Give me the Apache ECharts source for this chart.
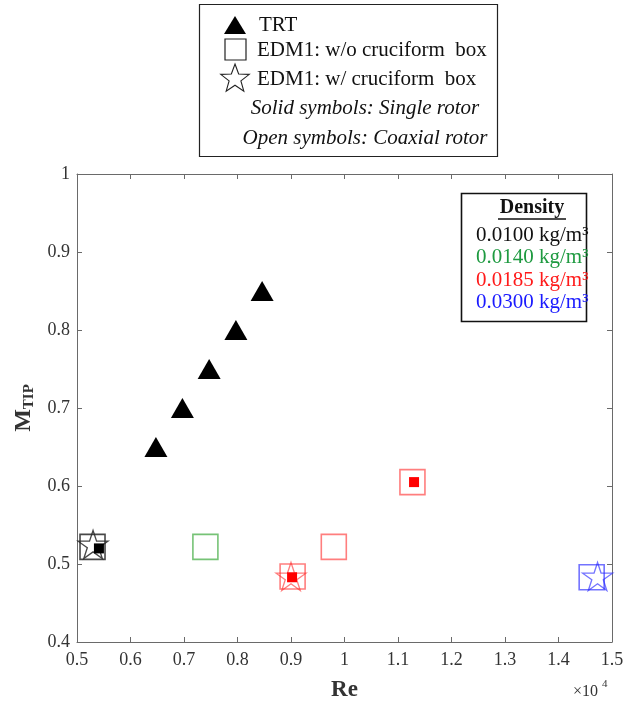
<!DOCTYPE html>
<html><head><meta charset="utf-8">
<script src="https://cdn.jsdelivr.net/npm/echarts@6/dist/echarts.min.js"></script>
<style>html,body{margin:0;padding:0;background:#fff}#c{width:627px;height:707px}</style>
</head><body><div id="c"></div>
<script>
// ---- data (Re in absolute units, M_TIP) ----
var trtRe   = [6475, 6970, 7470, 7970, 8460];
var trtM    = [0.650, 0.700, 0.750, 0.800, 0.850];

// open squares: EDM1 w/o cruciform box (coaxial)
var sqRe    = [5290, 7400, 9800, 9030, 11270, 14620];
var sqM     = [0.522, 0.522, 0.522, 0.484, 0.605, 0.483];
var sqDens  = ['0.0100', '0.0140', '0.0185', '0.0185', '0.0185', '0.0300'];

// open stars: EDM1 w/ cruciform box (coaxial)
var stRe    = [5300, 9000, 14730];
var stM     = [0.525, 0.484, 0.484];
var stDens  = ['0.0100', '0.0185', '0.0300'];

// solid small squares: single rotor
var ssRe    = [5410, 9020, 11300];
var ssM     = [0.520, 0.483, 0.605];
var ssDens  = ['0.0100', '0.0185', '0.0185'];

var densLabels = ['0.0100', '0.0140', '0.0185', '0.0300'];
var xTicks = [0.5, 0.6, 0.7, 0.8, 0.9, 1, 1.1, 1.2, 1.3, 1.4, 1.5];
var yTicks = [0.4, 0.5, 0.6, 0.7, 0.8, 0.9, 1];

// ---- styling ----
var openCol = {'0.0100':'rgba(40,40,40,0.85)','0.0140':'rgba(60,170,60,0.7)','0.0185':'rgba(255,40,40,0.6)','0.0300':'rgba(40,40,255,0.65)'};
var solidCol = {'0.0100':'#000','0.0140':'#1a9a3a','0.0185':'#ff0000','0.0300':'#0000ff'};
var textCol = {'0.0100':'#111','0.0140':'#1e9a40','0.0185':'#ff1a1a','0.0300':'#1a1aff'};
var FONT = '"Liberation Serif", "DejaVu Serif", serif';
var STAR = 'path://M50,0 L61.2,34.5 L97.6,34.5 L68.2,55.9 L79.4,90.5 L50,69.1 L20.6,90.5 L31.8,55.9 L2.4,34.5 L38.8,34.5 Z';

function zip(a,b){return a.map(function(v,i){return [v,b[i]];});}

var chart = echarts.init(document.getElementById('c'), null, {renderer:'canvas'});

var axisLineStyle = {color:'#6a6a6a', width:1};
var option = {
  backgroundColor:'#fff',
  animation:false,
  grid:{left:77, right:15, top:174, bottom:60, containLabel:false},
  xAxis:[{
    type:'value', min:5000, max:15000, interval:1000,
    axisLine:{show:true,onZero:false,lineStyle:axisLineStyle},
    axisTick:{show:true,inside:true,length:5,lineStyle:axisLineStyle},
    splitLine:{show:false},
    axisLabel:{fontFamily:FONT,fontSize:18,color:'#333',margin:9,
      formatter:function(v){var t=xTicks[Math.round((v-5000)/1000)];return String(t);}},
    name:'Re', nameLocation:'middle', nameGap:37,
    nameTextStyle:{fontFamily:FONT,fontSize:23,fontWeight:'bold',color:'#333'}
  },{
    type:'value', min:5000, max:15000, interval:1000, position:'top',
    axisLine:{show:true,onZero:false,lineStyle:axisLineStyle},
    axisTick:{show:true,inside:true,length:5,lineStyle:axisLineStyle},
    axisLabel:{show:false}, splitLine:{show:false}
  }],
  yAxis:[{
    type:'value', min:0.4, max:1, interval:0.1,
    axisLine:{show:true,onZero:false,lineStyle:axisLineStyle},
    axisTick:{show:true,inside:true,length:5,lineStyle:axisLineStyle},
    splitLine:{show:false},
    axisLabel:{fontFamily:FONT,fontSize:18,color:'#333',margin:7,
      formatter:function(v){var t=yTicks[Math.round((v-0.4)*10)];return String(t);}},
    name:'{m|M}{s|TIP}', nameLocation:'middle', nameGap:38, nameRotate:90,
    nameTextStyle:{rich:{
      m:{fontFamily:FONT,fontSize:24,fontWeight:'bold',color:'#333'},
      s:{fontFamily:FONT,fontSize:15,fontWeight:'bold',color:'#333',padding:[10,0,0,0]}
    }}
  },{
    type:'value', min:0.4, max:1, interval:0.1, position:'right',
    axisLine:{show:true,onZero:false,lineStyle:axisLineStyle},
    axisTick:{show:true,inside:true,length:5,lineStyle:axisLineStyle},
    axisLabel:{show:false}, splitLine:{show:false}
  }],
  series:[
    {type:'scatter', name:'TRT', data:zip(trtRe,trtM), symbol:'triangle', symbolSize:[23,20],
      itemStyle:{color:'#000',opacity:1}, z:5},
    {type:'scatter', name:'sq', symbol:'rect', symbolSize:25,
      data:zip(sqRe,sqM).map(function(p,i){return {value:p,itemStyle:{opacity:1,color:'rgba(0,0,0,0)',borderColor:openCol[sqDens[i]],borderWidth:1.6}};}), z:3},
    {type:'scatter', name:'star', symbol:STAR, symbolSize:[30,28],
      data:zip(stRe,stM).map(function(p,i){return {value:p,itemStyle:{opacity:1,color:'rgba(0,0,0,0)',borderColor:openCol[stDens[i]],borderWidth:1.3}};}), z:4},
    {type:'scatter', name:'solid', symbol:'rect', symbolSize:10,
      data:zip(ssRe,ssM).map(function(p,i){return {value:p,itemStyle:{opacity:1,color:solidCol[ssDens[i]]}};}), z:6}
  ],
  graphic:[]
};

// ---- legend box (top) ----
var g = option.graphic;
g.push({type:'rect', shape:{x:199.5,y:4.5,width:298,height:152}, style:{fill:'#fff',stroke:'#222',lineWidth:1.2}, z:10});
g.push({type:'polygon', shape:{points:[[235,16],[246,34],[224,34]]}, style:{fill:'#000'}, z:11});
g.push({type:'rect', shape:{x:225,y:39,width:21,height:21}, style:{fill:'none',stroke:'#222',lineWidth:1.2}, z:11});
(function(){
  var cx=235, cy=79, R=15, r=6.2, pts=[];
  for(var k=0;k<10;k++){var a=-Math.PI/2+k*Math.PI/5, rr=(k%2===0)?R:r; pts.push([cx+rr*Math.cos(a), cy+rr*Math.sin(a)]);}
  g.push({type:'polygon', shape:{points:pts}, style:{fill:'none',stroke:'#222',lineWidth:1.1}, z:11});
})();
var legTxt = [
  {t:'TRT', x:259, y:25},
  {t:'EDM1: w/o cruciform  box', x:257, y:50},
  {t:'EDM1: w/ cruciform  box', x:257, y:79}
];
legTxt.forEach(function(o){
  g.push({type:'text', x:o.x, y:o.y, style:{text:o.t, font:'21px '+FONT, fill:'#111', textVerticalAlign:'middle'}, z:11});
});
g.push({type:'text', x:365, y:108, style:{text:'Solid symbols: Single rotor', font:'italic 21px '+FONT, fill:'#111', textAlign:'center', textVerticalAlign:'middle'}, z:11});
g.push({type:'text', x:365, y:138, style:{text:'Open symbols: Coaxial rotor', font:'italic 21px '+FONT, fill:'#111', textAlign:'center', textVerticalAlign:'middle'}, z:11});

// ---- density box ----
g.push({type:'rect', shape:{x:461.5,y:193.5,width:125,height:128}, style:{fill:'#fff',stroke:'#111',lineWidth:1.6}, z:10});
g.push({type:'text', x:532, y:208, style:{text:'Density', font:'bold 20px '+FONT, fill:'#111', textAlign:'center', textVerticalAlign:'middle'}, z:11});
g.push({type:'line', shape:{x1:498,y1:219,x2:566,y2:219}, style:{stroke:'#111',lineWidth:1.3}, z:11});
densLabels.forEach(function(d,i){
  g.push({type:'text', x:476, y:235+i*22.5, style:{text:d+' kg/m\u00B3', font:'21px '+FONT, fill:textCol[d], textVerticalAlign:'middle'}, z:11});
});

// ---- x10^4 ----
g.push({type:'text', x:573, y:692, style:{text:'\u00D710', font:'16px '+FONT, fill:'#333', textVerticalAlign:'middle'}, z:11});
g.push({type:'text', x:602, y:684, style:{text:'4', font:'11px '+FONT, fill:'#333', textVerticalAlign:'middle'}, z:11});

chart.setOption(option);
</script>
</body></html>
